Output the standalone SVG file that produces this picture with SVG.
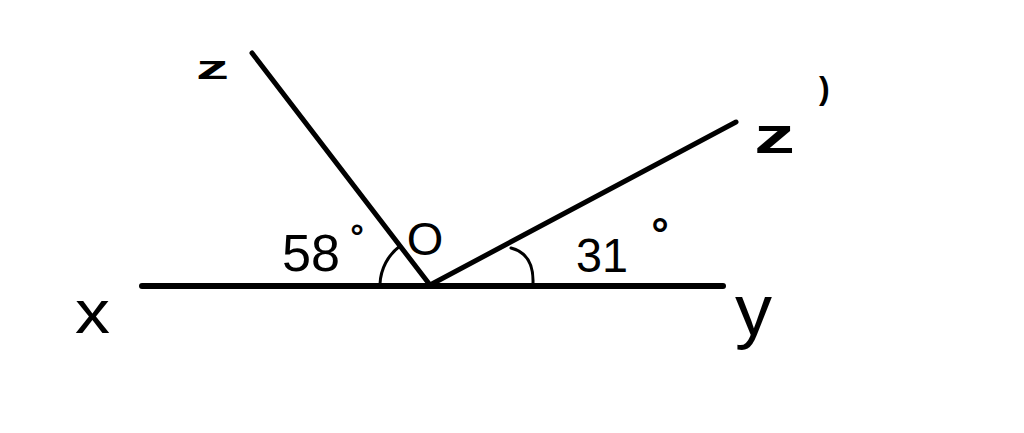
<svg xmlns="http://www.w3.org/2000/svg" width="1024" height="433" viewBox="0 0 1024 433">
<style>
.ln{stroke:#000;stroke-linecap:round;fill:none}
.arc{stroke:#000;stroke-width:3;fill:none;stroke-linecap:round}
.t{font-family:"Liberation Sans",Arial,sans-serif;fill:#000}
.b{font-weight:bold}
</style>
<rect width="1024" height="433" fill="#fff"/>
<g id="connectors">
<line id="ray-xy" class="ln" stroke-width="6" x1="142" y1="286" x2="723" y2="286"/>
<line id="ray-z" class="ln" stroke-width="5" x1="252" y1="53" x2="430" y2="285"/>
<line id="ray-z2" class="ln" stroke-width="5" x1="430" y1="285" x2="736" y2="122"/>
<path id="arc-58" class="arc" d="M380,284 A50,50 0 0 1 400,246"/>
<path id="arc-31" class="arc" d="M511,248 Q534,254 533,283"/>
</g>
<g id="label-z"><text class="t b" x="196" y="79" font-size="34" textLength="33" lengthAdjust="spacingAndGlyphs">z</text></g>
<g id="label-z2"><text class="t b" x="754" y="153" font-size="50" textLength="41" lengthAdjust="spacingAndGlyphs">z</text><text class="t b" x="819" y="99" font-size="32">)</text></g>
<g id="label-x"><text class="t" x="75" y="333" font-size="62" textLength="35" lengthAdjust="spacingAndGlyphs">x</text></g>
<g id="label-y"><text class="t" x="735" y="335" font-size="72" textLength="37" lengthAdjust="spacingAndGlyphs">y</text></g>
<g id="label-O"><text class="t" x="425" y="255" font-size="47" text-anchor="middle">O</text></g>
<g id="label-58"><text class="t" x="282" y="271" font-size="52" textLength="58" lengthAdjust="spacingAndGlyphs">58</text><text class="t b" x="357" y="248" font-size="34" text-anchor="middle">°</text></g>
<g id="label-31"><text class="t" x="576" y="272" font-size="49" textLength="52" lengthAdjust="spacingAndGlyphs">31</text><text class="t b" x="660" y="249" font-size="44" text-anchor="middle">°</text></g>
</svg>
